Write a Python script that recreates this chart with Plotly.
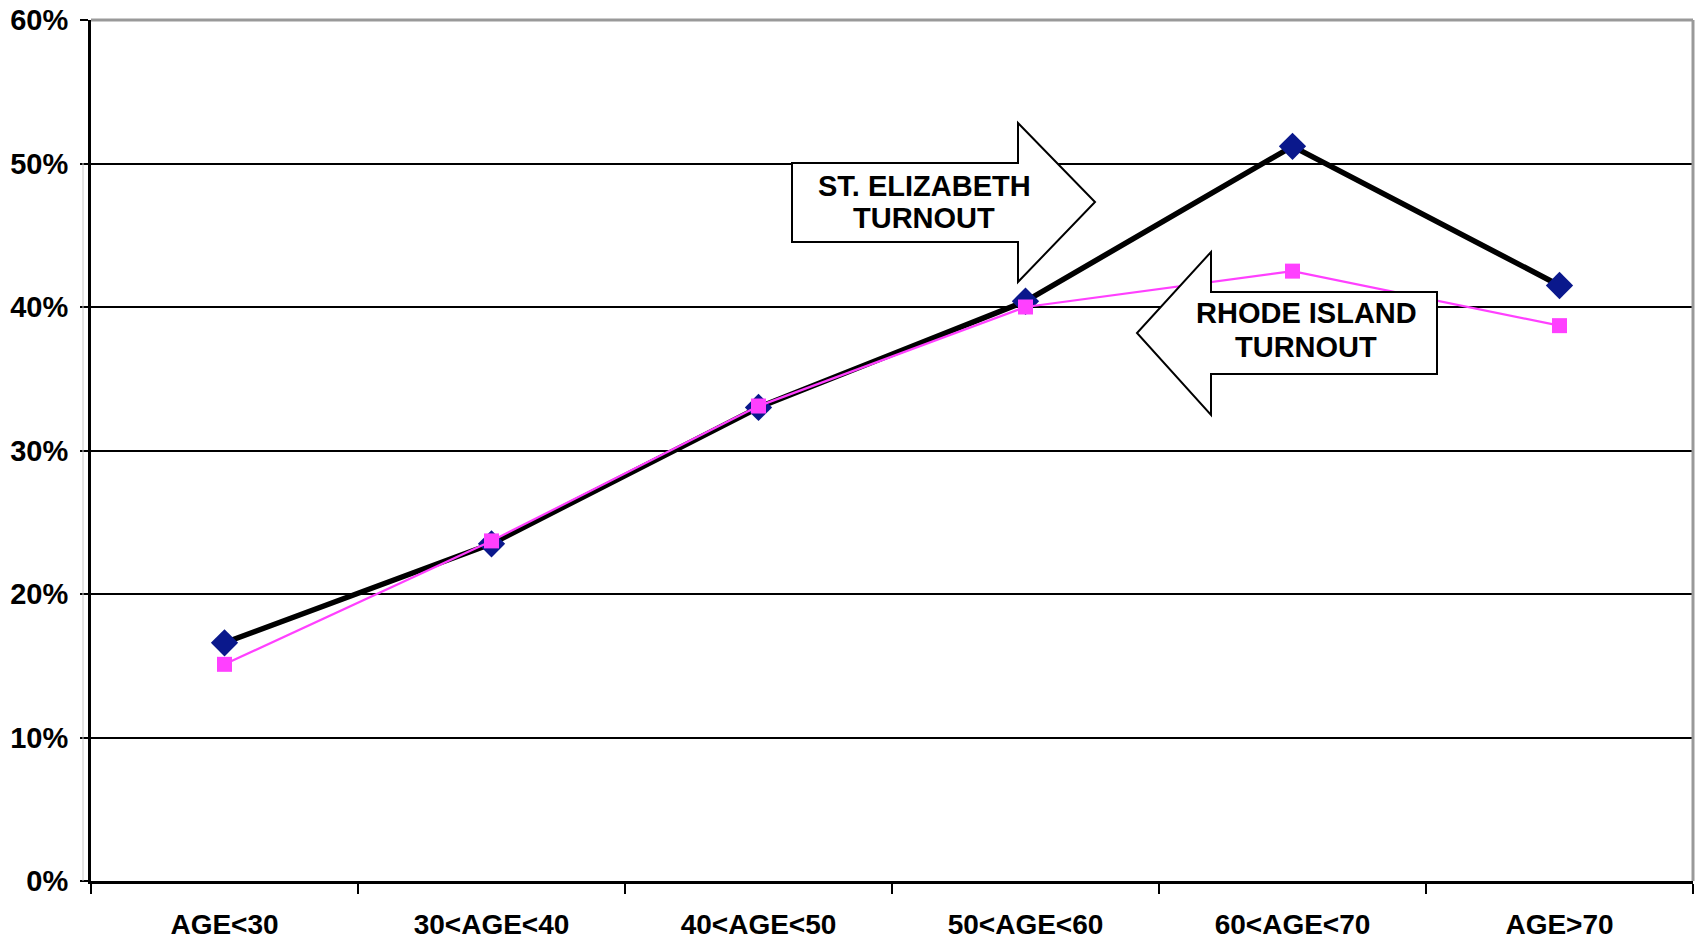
import plotly.graph_objects as go

categories = ["AGE<30", "30<AGE<40", "40<AGE<50", "50<AGE<60", "60<AGE<70", "AGE>70"]
st_elizabeth = [0.166, 0.235, 0.330, 0.404, 0.512, 0.415]
rhode_island = [0.151, 0.237, 0.331, 0.400, 0.425, 0.387]
y_ticks = [0, 0.1, 0.2, 0.3, 0.4, 0.5, 0.6]
y_tick_labels = ["0%", "10%", "20%", "30%", "40%", "50%", "60%"]

W, H = 1695, 943
X0, X1, Y0, Y1 = 91, 1693, 20, 881  # plot area in window pixels
L, R, T, B = X0, W - X1, Y0, H - Y1
PW, PH = X1 - X0, Y1 - Y0


def px(x, y):
    return (x - X0) / PW, (Y1 - y) / PH


def path(points):
    parts = []
    for i, (x, y) in enumerate(points):
        a, b = px(x, y)
        parts.append(("M" if i == 0 else "L") + f"{a:.5f},{b:.5f}")
    return " ".join(parts) + " Z"


FONT = "Arial, Liberation Sans, sans-serif"

fig = go.Figure()
fig.add_trace(go.Scatter(
    x=categories, y=st_elizabeth, mode="lines+markers",
    line=dict(color="black", width=5.5),
    marker=dict(symbol="diamond", size=21, color="#0a188c"),
    showlegend=False, cliponaxis=False))
fig.add_trace(go.Scatter(
    x=categories, y=rhode_island, mode="lines+markers",
    line=dict(color="#ff40ff", width=2.2),
    marker=dict(symbol="square", size=15, color="#ff40ff"),
    showlegend=False, cliponaxis=False))

arrow1 = [(792, 163), (1018, 163), (1018, 123), (1095, 202), (1018, 282), (1018, 242), (792, 242)]
arrow2 = [(1437, 292), (1211, 292), (1211, 252), (1137, 333), (1211, 415), (1211, 374), (1437, 374)]
gx0, gy0 = px(83, 163)
gx1, gy1 = px(83, 881)
shapes = [
    dict(type="line", xref="paper", yref="paper", x0=gx0, x1=gx1, y0=gy0, y1=gy1,
         line=dict(color="#c8c8c8", width=1), layer="above"),
    dict(type="path", xref="paper", yref="paper", path=path(arrow1),
         fillcolor="white", line=dict(color="black", width=2), layer="above"),
    dict(type="path", xref="paper", yref="paper", path=path(arrow2),
         fillcolor="white", line=dict(color="black", width=2), layer="above"),
    dict(type="line", xref="paper", yref="paper", x0=0, x1=1, y0=1, y1=1,
         line=dict(color="#999999", width=3), layer="above"),
    dict(type="line", xref="paper", yref="paper", x0=1, x1=1, y0=0, y1=1,
         line=dict(color="#999999", width=3), layer="above"),
]

label_lines = [
    ("ST. ELIZABETH", 924, 186),
    ("TURNOUT", 924, 218),
    ("RHODE ISLAND", 1306, 313),
    ("TURNOUT", 1306, 347),
]
annotations = []
for text, lx, ly in label_lines:
    a, b = px(lx, ly)
    annotations.append(dict(
        x=a, y=b, xref="paper", yref="paper", text=text,
        xanchor="center", yanchor="middle", showarrow=False,
        font=dict(family=FONT, size=29, color="black", weight="bold")))

fig.update_layout(
    width=W, height=H,
    margin=dict(l=L, r=R, t=T, b=B, pad=0),
    paper_bgcolor="white", plot_bgcolor="white",
    shapes=shapes, annotations=annotations,
    xaxis=dict(type="category", tickson="boundaries", showgrid=False,
               showline=True, linecolor="black", linewidth=3,
               ticks="outside", ticklen=10, tickwidth=2, tickcolor="black",
               range=[-0.5, 5.5], zeroline=False,
               tickfont=dict(family=FONT, size=28, color="black", weight="bold"),
               ticklabelstandoff=16),
    yaxis=dict(range=[0, 0.6], tickvals=y_ticks, ticktext=y_tick_labels,
               showgrid=True, gridcolor="black", gridwidth=2,
               showline=True, linecolor="black", linewidth=3,
               ticks="outside", ticklen=8, tickwidth=2, tickcolor="black",
               zeroline=False,
               tickfont=dict(family=FONT, size=29, color="black", weight="bold"),
               ticklabelstandoff=6),
)

fig.write_html(
    "out.html",
    config={"displayModeBar": False},
    post_script="document.body.style.margin='0';document.body.style.overflow='hidden';",
)
